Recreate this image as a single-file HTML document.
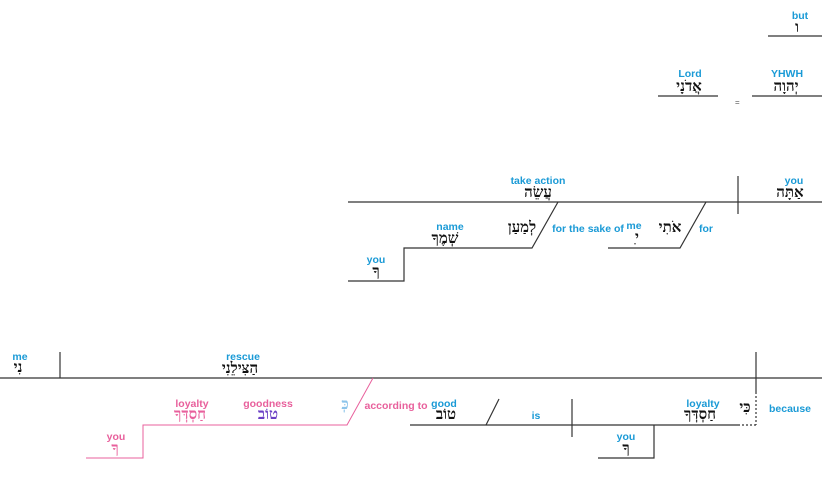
<!DOCTYPE html>
<html><head><meta charset="utf-8"><style>
html,body{margin:0;padding:0;background:#fff;}
svg{display:block;}
.e{font-family:"Liberation Sans",sans-serif;font-weight:bold;font-size:10.5px;fill:#1a9ad6;text-anchor:middle;}
.p{fill:#e8609c;}
.h{font-family:"Liberation Serif","Noto Serif CJK SC","DejaVu Serif",serif;font-weight:bold;font-size:15px;fill:#111;text-anchor:middle;}
</style></head><body>
<svg width="825" height="502" viewBox="0 0 825 502" xmlns="http://www.w3.org/2000/svg">
<g stroke="#333" stroke-width="1.2" fill="none">
<line x1="768" y1="36" x2="822" y2="36"/>
<line x1="658" y1="96" x2="718" y2="96"/>
<line x1="752" y1="96" x2="822" y2="96"/>
<line x1="348" y1="202" x2="822" y2="202"/>
<line x1="738" y1="176" x2="738" y2="214"/>
<polyline points="558,202 532,248 404,248 404,281 348,281"/>
<polyline points="706,202 680,248 608,248"/>
<line x1="0" y1="378" x2="822" y2="378"/>
<line x1="60" y1="352" x2="60" y2="378"/>
<line x1="756" y1="352" x2="756" y2="392"/>
<line x1="756" y1="392" x2="756" y2="425" stroke-dasharray="2,2"/>
<line x1="738" y1="425" x2="756" y2="425" stroke-dasharray="2,2"/>
<line x1="410" y1="425" x2="738" y2="425"/>
<line x1="486" y1="425" x2="499" y2="399"/>
<line x1="572" y1="399" x2="572" y2="437"/>
<polyline points="654,425 654,458 598,458"/>
</g>
<polyline points="373,378 347,425 143,425 143,458 86,458" stroke="#e8609c" stroke-width="1" fill="none"/>
<text x="735" y="105" font-size="8" fill="#555" font-family="Liberation Sans">=</text>
<text class="e" x="800" y="19">but</text><text class="h" x="797" y="32">ו</text>
<text class="e" x="690" y="77">Lord</text><text class="h" x="689" y="91">אֲדֹנָי</text>
<text class="e" x="787" y="77">YHWH</text><text class="h" x="786" y="91">יְהוָה</text>
<text class="e" x="538" y="184">take action</text><text class="h" x="538" y="197">עֲשֵׂה</text>
<text class="e" x="794" y="184">you</text><text class="h" x="790" y="197">אַתָּה</text>
<text class="h" x="522" y="232">לְמַעַן</text>
<text class="e" x="588" y="232">for the sake of</text>
<text class="e" x="634" y="229">me</text><text class="h" x="637" y="242">ִי</text>
<text class="e" x="450" y="230">name</text><text class="h" x="445" y="243">שְׁמֶךָ</text>
<text class="e" x="376" y="263">you</text><text class="h" x="376" y="276">ךָ</text>
<text class="h" x="670" y="232">אֹתִי</text>
<text class="e" x="706" y="232">for</text>
<text class="e" x="20" y="360">me</text><text class="h" x="18" y="372">נִי</text>
<text class="e" x="243" y="360">rescue</text><text class="h" x="240" y="373">הַצִּילֵנִי</text>
<text class="e p" x="396" y="409">according to</text>
<text class="h" x="345" y="409" style="fill:#8cc4ea">כְּ</text>
<text class="e p" x="268" y="407">goodness</text><text class="h" x="268" y="419" style="fill:#6a3fc4">טוֹב</text>
<text class="e p" x="192" y="407">loyalty</text><text class="h" x="190" y="419" style="fill:#e8609c">חַסְדְּךָ</text>
<text class="e p" x="116" y="440">you</text><text class="h" x="115" y="453" style="fill:#e8609c">ךָ</text>
<text class="e" x="444" y="407">good</text><text class="h" x="446" y="419">טוֹב</text>
<text class="e" x="536" y="419">is</text>
<text class="e" x="703" y="407">loyalty</text><text class="h" x="700" y="419">חַסְדְּךָ</text>
<text class="h" x="745" y="412">כִּי</text>
<text class="e" x="790" y="412">because</text>
<text class="e" x="626" y="440">you</text><text class="h" x="626" y="453">ךָ</text>
</svg>
</body></html>
